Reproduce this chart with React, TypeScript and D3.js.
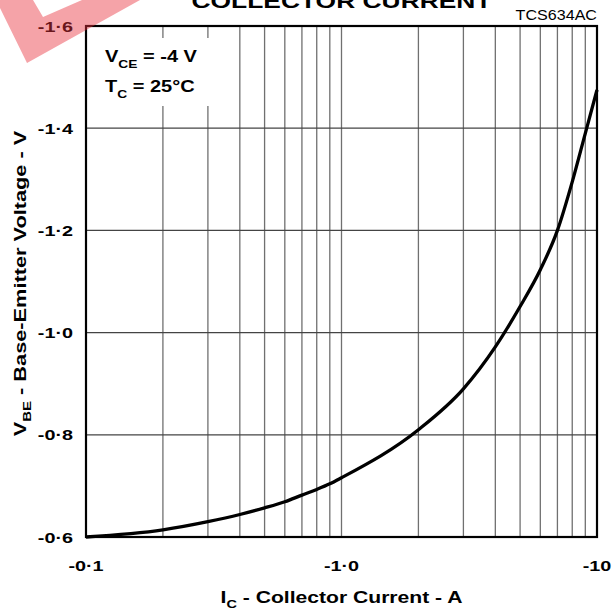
import React, { useEffect, useRef } from "react";
import * as d3 from "d3";

// collector current (magnitude, A) and base-emitter voltage (magnitude, V)
const currentA = [0.1, 0.2, 0.3, 0.4, 0.5, 0.6, 0.7, 0.8, 0.9, 1, 2, 3, 4, 5, 6, 7, 8, 9, 10];
const vbeV = [0.6, 0.614, 0.63, 0.644, 0.657, 0.669, 0.682, 0.693, 0.704, 0.716, 0.81, 0.89, 0.972, 1.051, 1.123, 1.2, 1.295, 1.39, 1.475];

const yTicks = [0.6, 0.8, 1.0, 1.2, 1.4, 1.6];
const yTickLabels = ["-0·6", "-0·8", "-1·0", "-1·2", "-1·4", "-1·6"];
const xTicks = [0.1, 1, 10];
const xTickLabels = ["-0·1", "-1·0", "-10"];

const W = 612;
const H = 615;
const X0 = 86;
const X1 = 597;
const Y0 = 537;
const Y1 = 26;
const FONT = "Arial, 'Liberation Sans', Helvetica, sans-serif";
// the lettering in the original is noticeably wide
const SX = 1.32;

const App = () => {
    const svgRef = useRef<SVGSVGElement>(null);

    useEffect(() => {
        if (!svgRef.current) return;
        const svg = d3.select(svgRef.current);
        svg.selectAll("*").remove();

        const x = d3.scaleLog().domain([0.1, 10]).range([X0, X1]);
        const y = d3.scaleLinear().domain([0.6, 1.6]).range([Y0, Y1]);

        // ── Grid ──────────────────────────────────────────────────────────
        const minor: number[] = [];
        [0.1, 1].forEach(d => d3.range(2, 10).forEach(k => minor.push(d * k)));
        minor.push(1);

        svg.append("g").selectAll("line").data(minor).join("line")
            .attr("x1", d => x(d)).attr("x2", d => x(d))
            .attr("y1", Y1).attr("y2", Y0)
            .attr("stroke", "#707070").attr("stroke-width", 1.3);

        svg.append("g").selectAll("line").data(yTicks.slice(1, -1)).join("line")
            .attr("x1", X0).attr("x2", X1)
            .attr("y1", d => y(d)).attr("y2", d => y(d))
            .attr("stroke", "#444").attr("stroke-width", 1.3);

        // legend box hides the grid behind it
        svg.append("rect")
            .attr("x", X0 + 1).attr("y", 38)
            .attr("width", 142).attr("height", 68)
            .attr("fill", "#fff");

        const leg = svg.append("g")
            .attr("font-family", FONT).attr("font-weight", "bold").attr("fill", "#000");
        const l1 = leg.append("text")
            .attr("transform", `translate(105,62) scale(1.25,1)`).attr("font-size", "16px");
        l1.append("tspan").text("V");
        l1.append("tspan").attr("font-size", "11px").attr("dy", 6).text("CE");
        l1.append("tspan").attr("dy", -6).text(" = -4 V");
        const l2 = leg.append("text")
            .attr("transform", `translate(105,92) scale(1.25,1)`).attr("font-size", "16px");
        l2.append("tspan").text("T");
        l2.append("tspan").attr("font-size", "11px").attr("dy", 6).text("C");
        l2.append("tspan").attr("dy", -6).text(" = 25°C");

        // ── Frame ─────────────────────────────────────────────────────────
        svg.append("rect")
            .attr("x", X0).attr("y", Y1)
            .attr("width", X1 - X0).attr("height", Y0 - Y1)
            .attr("fill", "none").attr("stroke", "#000").attr("stroke-width", 2.2);

        // ── Curve ─────────────────────────────────────────────────────────
        const line = d3.line<number>()
            .x((_, i) => x(currentA[i]))
            .y(d => y(d))
            .curve(d3.curveMonotoneX);
        svg.append("path")
            .attr("d", line(vbeV))
            .attr("fill", "none").attr("stroke", "#000")
            .attr("stroke-width", 3.3).attr("stroke-linejoin", "round");

        // ── Tick labels ───────────────────────────────────────────────────
        svg.append("g").selectAll("text").data(yTicks).join("text")
            .attr("transform", d => `translate(73,${y(d) + 5.5}) scale(${SX},1)`)
            .attr("text-anchor", "end")
            .attr("font-family", FONT).attr("font-weight", "bold").attr("font-size", "15px")
            .text((_, i) => yTickLabels[i]);

        svg.append("g").selectAll("text").data(xTicks).join("text")
            .attr("transform", d => `translate(${x(d)},571) scale(${SX},1)`)
            .attr("text-anchor", "middle")
            .attr("font-family", FONT).attr("font-weight", "bold").attr("font-size", "15px")
            .text((_, i) => xTickLabels[i]);

        // ── Axis titles ───────────────────────────────────────────────────
        const xt = svg.append("text")
            .attr("transform", `translate(${(X0 + X1) / 2},603) scale(${SX},1)`)
            .attr("text-anchor", "middle")
            .attr("font-family", FONT).attr("font-weight", "bold").attr("font-size", "16px");
        xt.append("tspan").text("I");
        xt.append("tspan").attr("font-size", "11px").attr("dy", 5).text("C");
        xt.append("tspan").attr("dy", -5).text(" - Collector Current - A");

        const yt = svg.append("text")
            .attr("transform", `translate(26,${(Y0 + Y1) / 2 + 2}) rotate(-90) scale(1.36,1)`)
            .attr("text-anchor", "middle")
            .attr("font-family", FONT).attr("font-weight", "bold").attr("font-size", "16px");
        yt.append("tspan").text("V");
        yt.append("tspan").attr("font-size", "11px").attr("dy", 5).text("BE");
        yt.append("tspan").attr("dy", -5).text(" - Base-Emitter Voltage - V");

        // ── Title (cut off at the top) and figure code ────────────────────
        svg.append("text")
            .attr("transform", `translate(${(X0 + X1) / 2},8) scale(${SX},1)`)
            .attr("text-anchor", "middle")
            .attr("font-family", FONT).attr("font-weight", "bold").attr("font-size", "20px")
            .text("COLLECTOR CURRENT");

        svg.append("text")
            .attr("transform", `translate(${X1},20) scale(1.15,1)`)
            .attr("text-anchor", "end")
            .attr("font-family", FONT).attr("font-size", "14px")
            .text("TCS634AC");

        // ── Red watermark in the corner ───────────────────────────────────
        svg.append("path")
            .attr("d", "M0,8 L27,63 L140,0 L82,0 L43,17 L33,0 L0,0 Z")
            .attr("fill", "#e8323f")
            .attr("fill-opacity", 0.45);
    }, []);

    return (
        <svg
            ref={svgRef}
            width={W}
            height={H}
            style={{ position: "absolute", left: 0, top: 0, background: "#fff" }}
        />
    );
};

export default App;
